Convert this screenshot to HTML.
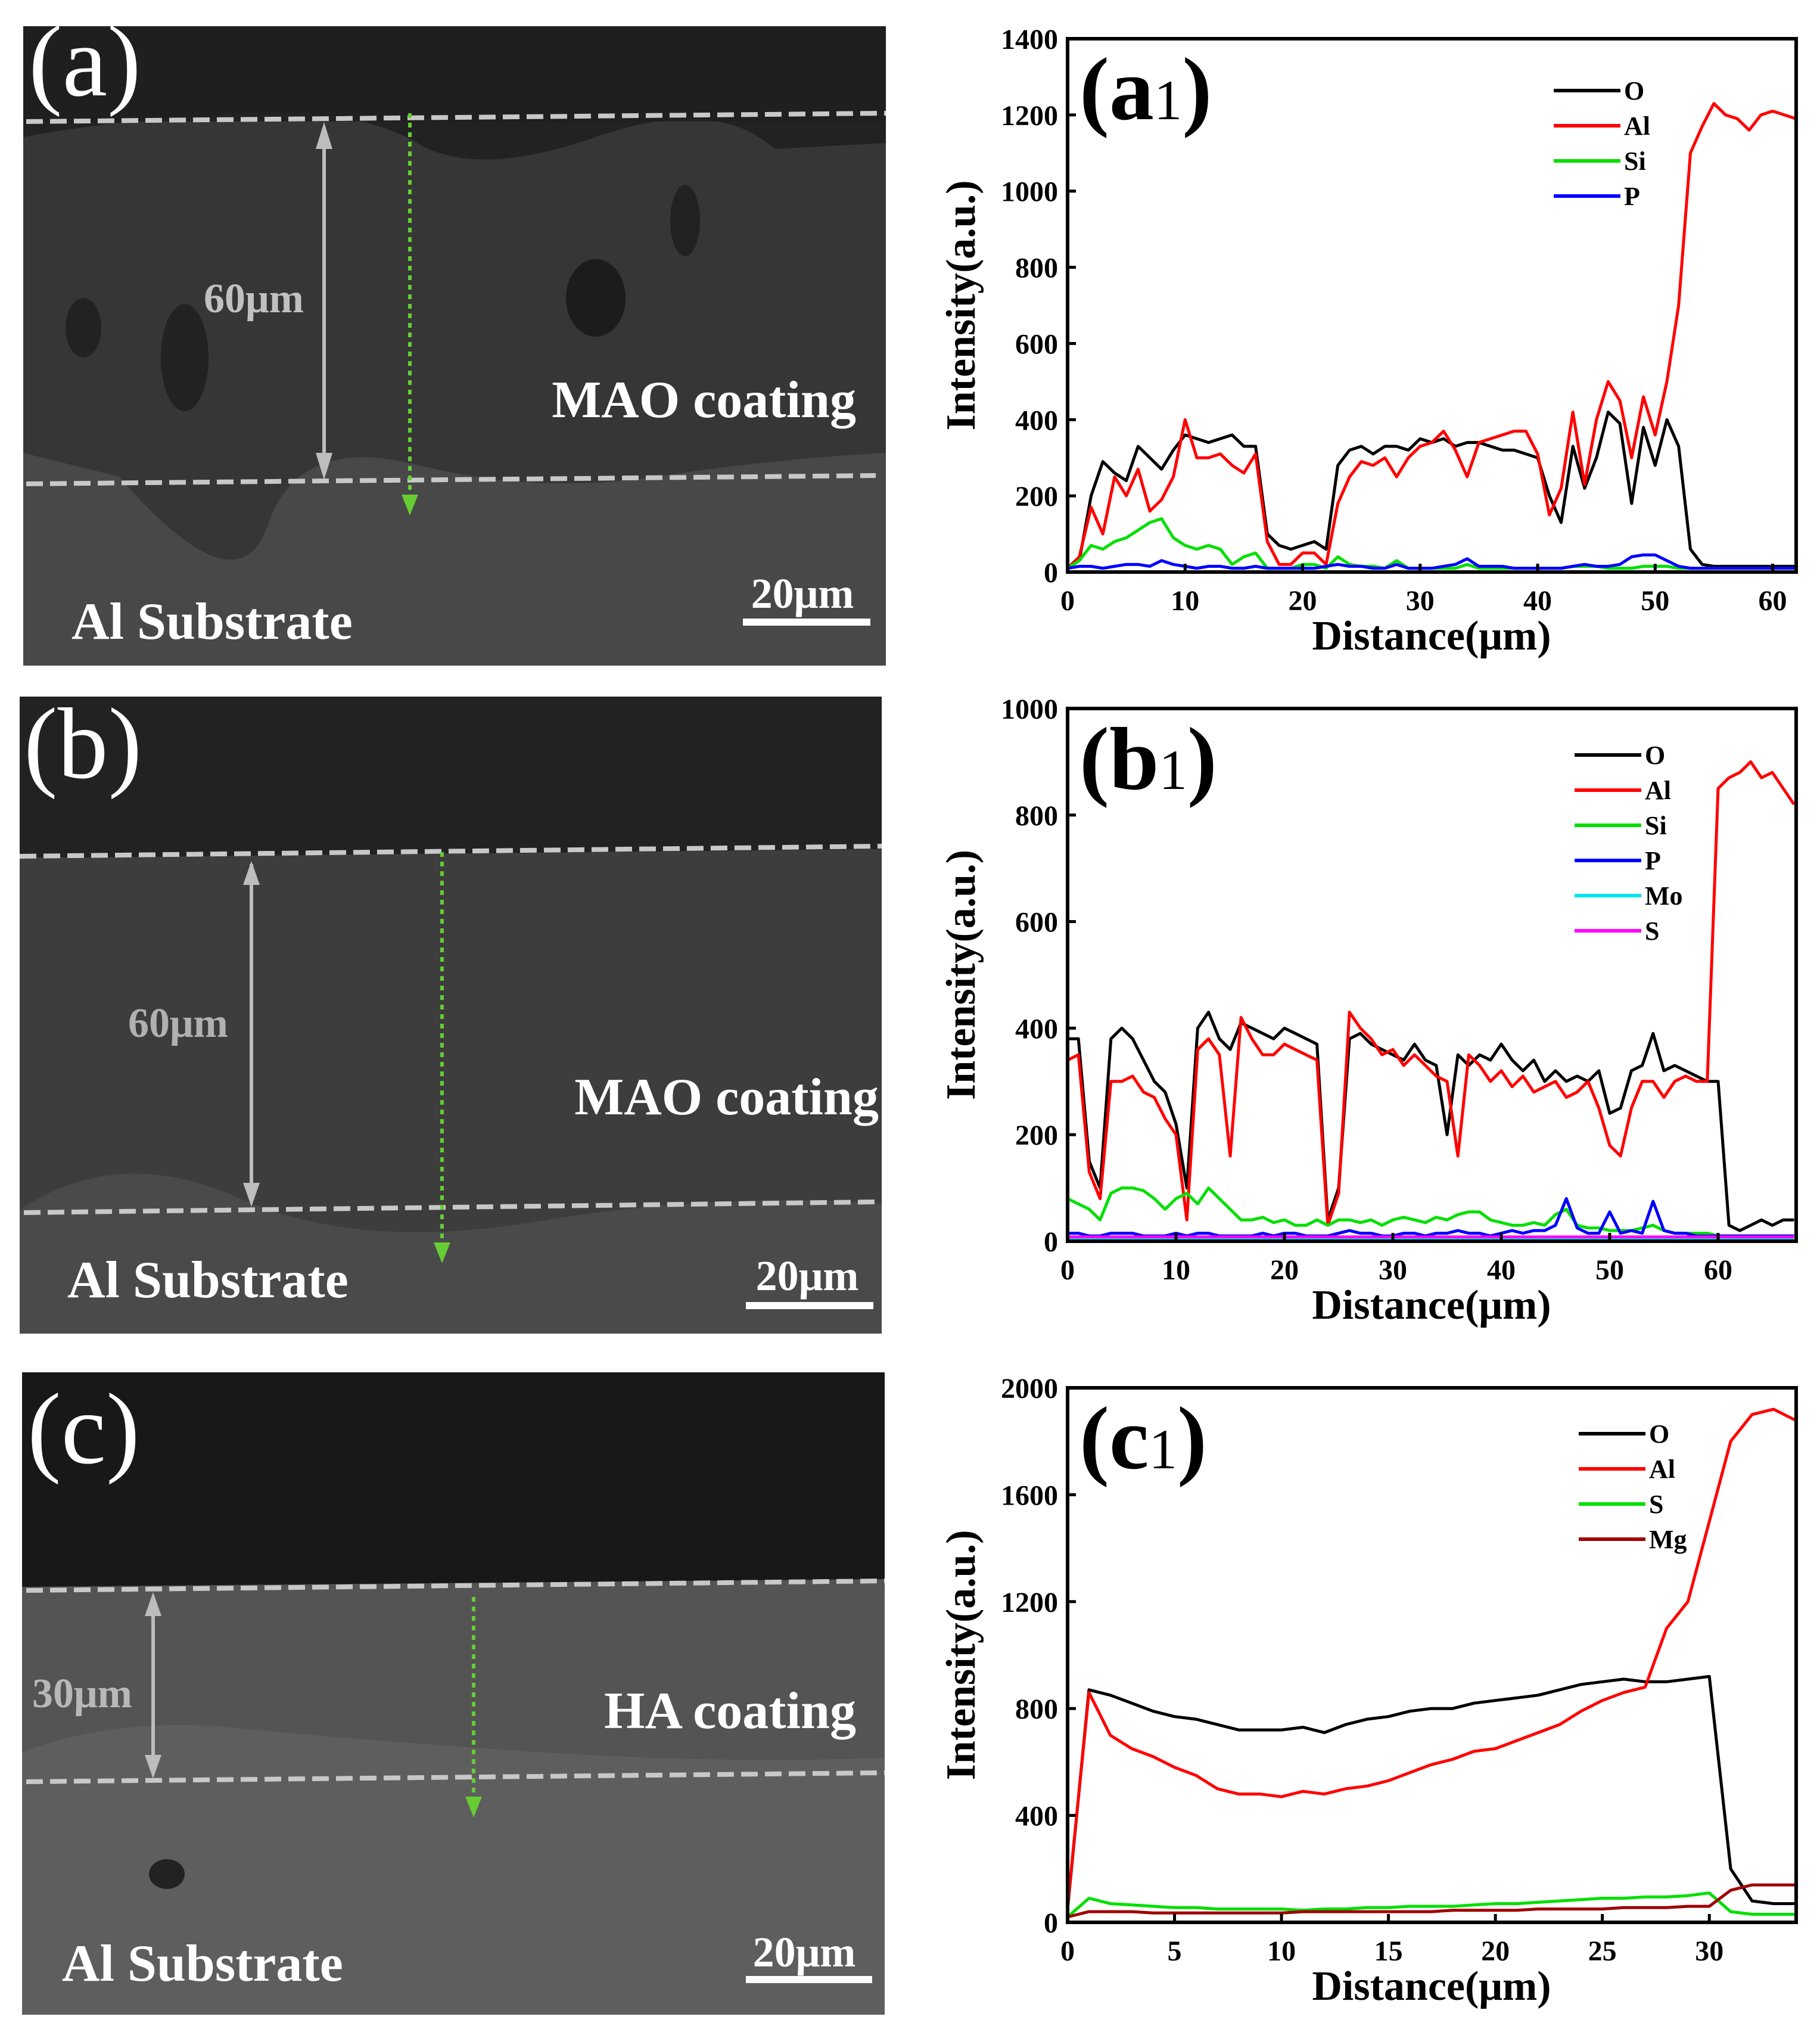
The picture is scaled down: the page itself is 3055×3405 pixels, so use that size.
<!DOCTYPE html>
<html><head><meta charset="utf-8"><style>
html,body{margin:0;padding:0;background:#fff;}
svg{display:block;}
text{font-family:"Liberation Serif",serif;}
</style></head><body>
<svg id="fig" width="3055" height="3405" viewBox="0 0 3055 3405" xmlns="http://www.w3.org/2000/svg">
<!-- SEM panel a -->
<g>
<rect x="39" y="44" width="1448" height="1073" fill="#484848"/>
<rect x="39" y="44" width="1448" height="160" fill="#1f1f1f"/>
<path d="M39,230 Q200,200 400,190 T700,240 T1000,230 T1300,250 L1487,240 L1487,760 Q1300,770 1100,800 T700,780 T450,880 T200,800 L39,760 Z" fill="#363636"/>
<path d="M39,204 L39,230 Q200,200 400,190 T700,240 T1000,230 T1300,250 L1487,240 L1487,204 Z" fill="#222"/>
<ellipse cx="1000" cy="500" rx="50" ry="65" fill="#1c1c1c"/><ellipse cx="310" cy="600" rx="40" ry="90" fill="#222"/><ellipse cx="140" cy="550" rx="30" ry="50" fill="#222"/><ellipse cx="1150" cy="370" rx="25" ry="60" fill="#222"/>
<line x1="44" y1="204" x2="1487" y2="190" stroke="#c8c8c8" stroke-width="8" stroke-dasharray="28,12"/>
<line x1="44" y1="812" x2="1470" y2="798" stroke="#c8c8c8" stroke-width="8" stroke-dasharray="28,12"/>
<line x1="544" y1="215" x2="544" y2="795" stroke="#bdbdbd" stroke-width="6"/>
<path d="M530,250 L544,205 L558,250 Z M530,760 L544,805 L558,760 Z" fill="#bdbdbd"/>
<line x1="688" y1="190" x2="688" y2="850" stroke="#66cc33" stroke-width="6" stroke-dasharray="8,8"/>
<path d="M674,830 L688,865 L702,830 Z" fill="#66cc33"/>
<text x="48" y="160" font-size="170" fill="#fff">(a)</text>
<text x="342" y="524" font-size="70" font-weight="bold" fill="#c0c0c0">60μm</text>
<text x="1437" y="700" font-size="88" font-weight="bold" fill="#fff" text-anchor="end">MAO coating</text>
<text x="120" y="1072" font-size="88" font-weight="bold" fill="#fff">Al Substrate</text>
<text x="1347" y="1020" font-size="72" font-weight="bold" fill="#fff" text-anchor="middle">20μm</text>
<rect x="1247" y="1038" width="214" height="12" fill="#fff"/>
</g>
<!-- SEM panel b -->
<g>
<rect x="33" y="1169" width="1447" height="1069" fill="#4a4a4a"/>
<rect x="33" y="1169" width="1447" height="270" fill="#222"/>
<path d="M33,1440 L1480,1425 L1480,2020 Q1200,2000 900,2050 T400,2010 T33,2030 Z" fill="#3d3d3d"/>
<line x1="33" y1="1437" x2="1480" y2="1420" stroke="#c8c8c8" stroke-width="8" stroke-dasharray="28,12"/>
<line x1="40" y1="2035" x2="1470" y2="2017" stroke="#c8c8c8" stroke-width="8" stroke-dasharray="28,12"/>
<line x1="422" y1="1450" x2="422" y2="2015" stroke="#bdbdbd" stroke-width="6"/>
<path d="M408,1485 L422,1445 L436,1485 Z M408,1985 L422,2025 L436,1985 Z" fill="#bdbdbd"/>
<line x1="742" y1="1430" x2="742" y2="2100" stroke="#66cc33" stroke-width="6" stroke-dasharray="8,8"/>
<path d="M728,2085 L742,2120 L756,2085 Z" fill="#66cc33"/>
<text x="40" y="1305" font-size="170" fill="#fff">(b)</text>
<text x="215" y="1740" font-size="70" font-weight="bold" fill="#b0b0b0">60μm</text>
<text x="1475" y="1870" font-size="88" font-weight="bold" fill="#fff" text-anchor="end">MAO coating</text>
<text x="113" y="2177" font-size="88" font-weight="bold" fill="#fff">Al Substrate</text>
<text x="1355" y="2165" font-size="72" font-weight="bold" fill="#fff" text-anchor="middle">20μm</text>
<rect x="1252" y="2185" width="214" height="12" fill="#fff"/>
</g>
<!-- SEM panel c -->
<g>
<rect x="37" y="2303" width="1448" height="1078" fill="#5e5e5e"/>
<rect x="37" y="2303" width="1448" height="360" fill="#181818"/>
<path d="M37,2663 L1485,2650 L1485,2950 Q1200,2960 900,2940 T400,2900 T37,2940 Z" fill="#545454"/>
<line x1="44" y1="2669" x2="1485" y2="2653" stroke="#c8c8c8" stroke-width="8" stroke-dasharray="28,12"/>
<line x1="44" y1="2990" x2="1485" y2="2975" stroke="#c8c8c8" stroke-width="8" stroke-dasharray="28,12"/>
<line x1="257" y1="2680" x2="257" y2="2975" stroke="#bdbdbd" stroke-width="6"/>
<path d="M243,2712 L257,2672 L271,2712 Z M243,2945 L257,2985 L271,2945 Z" fill="#bdbdbd"/>
<line x1="795" y1="2680" x2="795" y2="3030" stroke="#66cc33" stroke-width="6" stroke-dasharray="8,8"/>
<path d="M781,3015 L795,3050 L809,3015 Z" fill="#66cc33"/>
<ellipse cx="280" cy="3145" rx="30" ry="25" fill="#222"/>
<text x="46" y="2455" font-size="170" fill="#fff">(c)</text>
<text x="54" y="2865" font-size="70" font-weight="bold" fill="#b8b8b8">30μm</text>
<text x="1437" y="2900" font-size="88" font-weight="bold" fill="#fff" text-anchor="end">HA coating</text>
<text x="104" y="3324" font-size="88" font-weight="bold" fill="#fff">Al Substrate</text>
<text x="1350" y="3300" font-size="72" font-weight="bold" fill="#fff" text-anchor="middle">20μm</text>
<rect x="1252" y="3316" width="212" height="12" fill="#fff"/>
</g>
<g id="charts"></g>
</svg>
<script>
const a1X = [0,1,2,3,4,5,6,7,8,9,10,11,12,13,14,15,16,17,18,19,20,21,22,23,24,25,26,27,28,29,30,31,32,33,34,35,36,37,38,39,40,41,42,43,44,45,46,47,48,49,50,51,52,53,54,55,56,57,58,59,60,61,62];
const a1O = [10,30,200,290,260,240,330,300,270,320,360,350,340,350,360,330,330,100,70,60,70,80,60,280,320,330,310,330,330,320,350,340,350,330,340,340,330,320,320,310,300,200,130,330,220,300,420,390,180,380,280,400,330,60,20,15,15,15,15,15,15,15,15];
const a1Al = [10,40,170,100,250,200,270,160,190,250,400,300,300,310,280,260,310,80,20,20,50,50,20,180,250,290,280,300,250,300,330,340,370,320,250,340,350,360,370,370,310,150,220,420,230,400,500,450,300,460,360,500,700,1100,1170,1230,1200,1190,1160,1200,1210,1200,1190];
const a1Si = [10,30,70,60,80,90,110,130,140,90,70,60,70,60,20,40,50,10,10,10,20,20,10,40,20,15,15,10,30,10,10,10,10,10,20,10,10,10,10,10,10,10,10,15,15,15,10,10,10,15,15,15,10,10,10,10,10,10,10,10,10,10,10];
const a1P = [10,15,15,10,15,20,20,15,30,20,15,10,15,15,10,10,15,10,10,10,10,10,15,20,15,15,10,10,20,10,10,10,15,20,35,15,15,15,10,10,10,10,10,15,20,15,15,20,40,45,45,30,15,10,10,10,10,10,10,10,10,10,10];

const b1X = [0,1,2,3,4,5,6,7,8,9,10,11,12,13,14,15,16,17,18,19,20,21,22,23,24,25,26,27,28,29,30,31,32,33,34,35,36,37,38,39,40,41,42,43,44,45,46,47,48,49,50,51,52,53,54,55,56,57,58,59,60,61,62,63,64,65,66,67];
const b1O = [380,380,150,100,380,400,380,340,300,280,220,100,400,430,380,360,410,400,390,380,400,390,380,370,40,100,380,390,370,360,350,340,370,340,330,200,350,330,350,340,370,340,320,340,300,320,300,310,300,320,240,250,320,330,390,320,330,320,310,300,300,30,20,30,40,30,40,40];
const b1Al = [340,350,130,80,300,300,310,280,270,230,200,40,360,380,350,160,420,380,350,350,370,360,350,340,30,90,430,400,380,350,360,330,350,330,310,300,160,350,330,300,320,290,310,280,290,300,270,280,300,250,180,160,250,300,300,270,300,310,300,300,850,870,880,900,870,880,850,820];
const b1Si = [80,70,60,40,90,100,100,95,80,60,80,90,70,100,80,60,40,40,45,35,40,30,30,40,30,40,40,35,40,30,40,45,40,35,45,40,50,55,55,40,35,30,30,35,30,50,60,30,25,25,20,20,20,25,30,20,15,15,15,15,10,10,10,10,10,10,10,10];
const b1P = [15,15,10,10,15,15,15,10,10,10,15,10,15,15,10,10,10,10,15,10,15,15,10,10,10,15,20,15,15,10,10,15,15,10,15,15,20,15,15,10,15,20,15,20,20,30,80,25,15,15,55,15,20,15,75,20,15,15,10,10,10,10,10,10,10,10,10,10];
const b1Mo = [5,5,5,5,5,5,5,5,5,5,5,5,5,5,5,5,5,5,5,5,5,5,5,5,5,5,5,5,5,5,5,5,5,5,5,5,5,5,5,5,5,5,5,5,5,5,5,5,5,5,5,5,5,5,5,5,5,5,5,5,5,5,5,5,5,5,5,5];
const b1S = [8,8,8,8,8,8,8,8,8,8,8,8,8,8,8,8,8,8,8,8,8,8,8,8,8,8,8,8,8,8,8,8,8,8,8,8,8,8,8,8,8,8,8,8,8,8,8,8,8,8,8,8,8,8,8,8,8,8,8,8,8,8,8,8,8,8,8,8];

const c1X = [0,1,2,3,4,5,6,7,8,9,10,11,12,13,14,15,16,17,18,19,20,21,22,23,24,25,26,27,28,29,30,31,32,33,34];
const c1O = [50,870,850,820,790,770,760,740,720,720,720,730,710,740,760,770,790,800,800,820,830,840,850,870,890,900,910,900,900,910,920,200,80,70,70];
const c1Al = [60,860,700,650,620,580,550,500,480,480,470,490,480,500,510,530,560,590,610,640,650,680,710,740,790,830,860,880,1100,1200,1500,1800,1900,1920,1880];
const c1S = [20,90,70,65,60,55,55,50,50,50,50,45,50,50,55,55,60,60,60,65,70,70,75,80,85,90,90,95,95,100,110,40,30,30,30];
const c1Mg = [20,40,40,40,35,35,35,35,35,35,35,40,40,40,40,40,40,40,45,45,45,45,50,50,50,50,55,55,55,60,60,120,140,140,140];

const a1YTicks = [0,200,400,600,800,1000,1200,1400];
const a1XTicks = [0,10,20,30,40,50,60];
const b1YTicks = [0,200,400,600,800,1000];
const b1XTicks = [0,10,20,30,40,50,60];
const c1YTicks = [0,400,800,1200,1600,2000];
const c1XTicks = [0,5,10,15,20,25,30];

const NS = "http://www.w3.org/2000/svg";
const root = document.getElementById('charts');
function mk(tag, attrs, parent){const e=document.createElementNS(NS,tag);for(const k in attrs)e.setAttribute(k,attrs[k]);parent.appendChild(e);return e;}

function chart(cfg){
  const g = mk('g',{},root);
  
  
  const L=1792,R=3015,T=cfg.top,B=cfg.bottom;
  const sx=v=>L+(v-0)/(cfg.xmax)*(R-L);
  const sy=v=>B-(v/cfg.ymax)*(B-T);
  cfg.series.forEach(s=>{
    let d='';
    cfg.x.forEach((xv,i)=>{d+=(i?'L':'M')+sx(xv).toFixed(1)+','+sy(s.v[i]).toFixed(1);});
    const p=mk('path',{d:d,fill:'none',stroke:s.c,'stroke-width':5,'stroke-linejoin':'round'},g);
    
    
  });
  const fr=mk('rect',{x:L,y:T,width:R-L,height:B-T,fill:'none',stroke:'#000','stroke-width':6},g);
  
  
  cfg.yt.forEach(v=>{
    mk('line',{x1:L,x2:L+14,y1:sy(v),y2:sy(v),stroke:'#000','stroke-width':5},g);
    const t=mk('text',{x:L-16,y:sy(v)+17,'font-size':48,'font-weight':'bold','text-anchor':'end'},g);
    t.textContent=v;
    
    
  });
  cfg.xt.forEach(v=>{
    mk('line',{x1:sx(v),x2:sx(v),y1:B,y2:B-14,stroke:'#000','stroke-width':5},g);
    const t=mk('text',{x:sx(v),y:B+64,'font-size':48,'font-weight':'bold','text-anchor':'middle'},g);
    t.textContent=v;
    
    
  });
  const xt=mk('text',{x:2403,y:B+130,'font-size':70,'font-weight':'bold','text-anchor':'middle'},g);
  xt.textContent='Distance(μm)';
  
  
  const yc=(T+B)/2;
  const yt=mk('text',{x:1636,y:yc,'font-size':70,'font-weight':'bold','text-anchor':'middle',transform:'rotate(-90 1636 '+yc+')'},g);
  yt.textContent='Intensity(a.u.)';
  
  
  const pl=mk('text',{x:1812,y:T+135,'font-size':150,'font-weight':'bold'},g);
  pl.innerHTML='('+cfg.label+'<tspan font-size="95" font-weight="normal">1</tspan>)';
  
  
  cfg.series.forEach((s,i)=>{
    const y=cfg.legY+i*cfg.legStep;
    const lg=mk('g',{},g);
    
    
    mk('line',{x1:cfg.legX,x2:cfg.legX+112,y1:y,y2:y,stroke:s.c,'stroke-width':6},lg);
    const t=mk('text',{x:cfg.legX+118,y:y+15,'font-size':44,'font-weight':'bold'},lg);
    t.textContent=s.n;
  });
}
chart({name:'chart-a1',top:65,bottom:960,xmax:62,ymax:1400,x:a1X,yt:a1YTicks,xt:a1XTicks,label:'a',legX:2608,legY:152,legStep:59,
  series:[{n:'O',c:'#000',v:a1O},{n:'Al',c:'#ff0000',v:a1Al},{n:'Si',c:'#00e000',v:a1Si},{n:'P',c:'#0000ff',v:a1P}]});
chart({name:'chart-b1',top:1189,bottom:2083,xmax:67.2,ymax:1000,x:b1X,yt:b1YTicks,xt:b1XTicks,label:'b',legX:2643,legY:1267,legStep:59,
  series:[{n:'O',c:'#000',v:b1O},{n:'Al',c:'#ff0000',v:b1Al},{n:'Si',c:'#00e000',v:b1Si},{n:'P',c:'#0000ff',v:b1P},{n:'Mo',c:'#00e5ee',v:b1Mo},{n:'S',c:'#ff00ff',v:b1S}]});
chart({name:'chart-c1',top:2329,bottom:3226,xmax:34.06,ymax:2000,x:c1X,yt:c1YTicks,xt:c1XTicks,label:'c',legX:2650,legY:2406,legStep:59,
  series:[{n:'O',c:'#000',v:c1O},{n:'Al',c:'#ff0000',v:c1Al},{n:'S',c:'#00e000',v:c1S},{n:'Mg',c:'#a00000',v:c1Mg}]});
</script>
</body></html>
